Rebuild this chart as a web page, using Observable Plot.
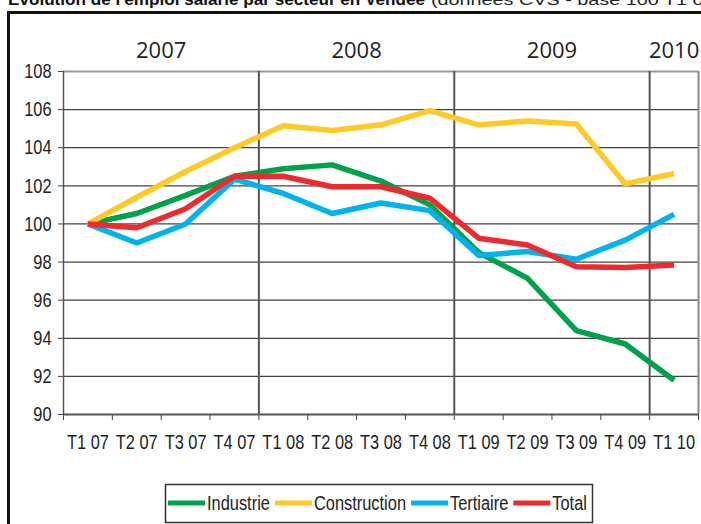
<!DOCTYPE html>
<html>
<head>
<meta charset="utf-8">
<script src="https://cdn.jsdelivr.net/npm/d3@7"></script>
<script src="https://cdn.jsdelivr.net/npm/@observablehq/plot@0.6"></script>
<style>
  html, body { margin: 0; padding: 0; background: #fff; }
  #wrap { position: relative; width: 701px; height: 524px; overflow: hidden; background: #fff; }
  #chart { position: absolute; left: 0; top: 0; }
  #deco { position: absolute; left: 0; top: 0; pointer-events: none; }
</style>
</head>
<body>
<div id="wrap">
  <div id="chart"></div>
  <svg id="deco" width="701" height="524">
    <text x="8" y="5" font-family="'Liberation Sans',sans-serif" font-weight="bold" font-size="17" fill="#111" textLength="417" lengthAdjust="spacingAndGlyphs">Evolution de l'emploi salarié par secteur en Vendée</text>
    <text x="431" y="5" font-family="'Liberation Sans',sans-serif" font-size="14" fill="#222" textLength="290" lengthAdjust="spacingAndGlyphs">(données CVS - base 100 T1 07)</text>
    <line x1="7" y1="12.5" x2="701" y2="12.5" stroke="#111" stroke-width="3"/>
    <line x1="8.5" y1="11" x2="8.5" y2="524" stroke="#111" stroke-width="3"/>
    <rect x="165.5" y="484.5" width="427" height="38" fill="none" stroke="#333" stroke-width="1.5"/>
    <g id="legend"></g>
  </svg>
</div>
<script>
// ---- Data ----
const quarters = ["T1 07","T2 07","T3 07","T4 07","T1 08","T2 08","T3 08","T4 08","T1 09","T2 09","T3 09","T4 09","T1 10"];
const industrie    = [100, 100.55, 101.5, 102.5, 102.9, 103.1, 102.25, 101.0, 98.5, 97.15, 94.4, 93.7, 91.8];
const construction = [100, 101.4, 102.75, 104.0, 105.15, 104.9, 105.2, 105.95, 105.2, 105.4, 105.25, 102.1, 102.65];
const tertiaire    = [100, 99.0, 100.0, 102.35, 101.6, 100.55, 101.1, 100.7, 98.35, 98.55, 98.15, 99.15, 100.5];
const total        = [100, 99.8, 100.8, 102.5, 102.5, 101.95, 101.95, 101.35, 99.25, 98.9, 97.75, 97.72, 97.85];
const seriesNames  = ["Industrie", "Construction", "Tertiaire", "Total"];
const seriesColors = ["#00a14b", "#ffc926", "#00b2ee", "#ee2a2f"];
const yTicks = [90, 92, 94, 96, 98, 100, 102, 104, 106, 108];

// ---- Derived tables ----
const seriesValues = [industrie, construction, tertiaire, total];
const rows = seriesNames.flatMap((name, k) => seriesValues[k].map((v, i) => ({i, v, s: name})));
const idx = quarters.map((_, i) => i);
const bounds = d3.range(-0.5, quarters.length, 1);
const yearOf = q => "20" + q.slice(-2);
const years = Array.from(new Set(quarters.map(yearOf)));
const yearLabels = years.map(y => ({year: y, pos: d3.mean(idx.filter(i => yearOf(quarters[i]) === y))}));
const yearSeps = idx.filter(i => i > 0 && yearOf(quarters[i]) !== yearOf(quarters[i - 1])).map(i => i - 0.5);

const sans = "'Liberation Sans',Arial,sans-serif";
const SQUEEZE = 0.78;

const chart = Plot.plot({
  width: 701,
  height: 470,
  marginLeft: 63,
  marginRight: 3,
  marginTop: 71,
  marginBottom: 56,
  style: {background: "transparent", fontFamily: sans, fontSize: "21px", color: "#222"},
  x: {domain: [-0.5, quarters.length - 0.5]},
  y: {domain: [90, 108]},
  color: {domain: seriesNames, range: seriesColors},
  marks: [
    Plot.gridY(yTicks, {stroke: "#444", strokeOpacity: 1, strokeWidth: 1.2}),
    Plot.ruleY([108], {stroke: "#999", strokeWidth: 2}),
    Plot.ruleX([quarters.length - 0.5], {stroke: "#888", strokeWidth: 2}),
    Plot.ruleX(yearSeps, {stroke: "#555", strokeWidth: 2}),
    Plot.axisY({ticks: yTicks, tickSize: 5, tickPadding: 7, stroke: "#444", label: null, fontSize: 21}),
    Plot.axisX({ticks: bounds, tickSize: 6, tickFormat: () => "", stroke: "#444", label: null}),
    Plot.axisX({ticks: idx, tickSize: 0, tickPadding: 20, tickFormat: i => quarters[i], label: null, fontSize: 21}),
    Plot.ruleY([90], {stroke: "#555", strokeWidth: 2}),
    Plot.ruleX([-0.5], {stroke: "#555", strokeWidth: 1.5}),
    Plot.line(rows, {x: "i", y: "v", z: "s", stroke: "s", strokeWidth: 5.5, strokeLinejoin: "miter", strokeLinecap: "butt"}),
    Plot.text(yearLabels, {x: "pos", y: () => 108, text: "year", dy: -21, fontSize: 22, fontFamily: "'Open Sans',sans-serif", fill: "#222", lineAnchor: "middle"})
  ]
});
document.getElementById("chart").appendChild(chart);

// Condense the axis tick labels (the original uses a narrow typeface)
chart.querySelectorAll('g[aria-label="x-axis tick label"] text, g[aria-label="y-axis tick label"] text').forEach(t => {
  const len = t.getComputedTextLength();
  if (len > 0) {
    t.setAttribute("textLength", (len * SQUEEZE).toFixed(1));
    t.setAttribute("lengthAdjust", "spacingAndGlyphs");
  }
});

// ---- Legend (SVG, condensed text) ----
const NS = "http://www.w3.org/2000/svg";
const lg = document.getElementById("legend");
let x = 168;
const ly = 503;
seriesNames.forEach((name, k) => {
  const ln = document.createElementNS(NS, "line");
  ln.setAttribute("x1", x); ln.setAttribute("x2", x + 37);
  ln.setAttribute("y1", ly); ln.setAttribute("y2", ly);
  ln.setAttribute("stroke", seriesColors[k]); ln.setAttribute("stroke-width", 5);
  lg.appendChild(ln);
  x += 39;
  const t = document.createElementNS(NS, "text");
  t.setAttribute("x", x); t.setAttribute("y", ly);
  t.setAttribute("dy", "0.35em");
  t.setAttribute("font-family", sans);
  t.setAttribute("font-size", 20);
  t.setAttribute("fill", "#222");
  t.textContent = name;
  lg.appendChild(t);
  const len = t.getComputedTextLength() * 0.82;
  t.setAttribute("textLength", len.toFixed(1));
  t.setAttribute("lengthAdjust", "spacingAndGlyphs");
  x += len + 5;
});
</script>
</body>
</html>
